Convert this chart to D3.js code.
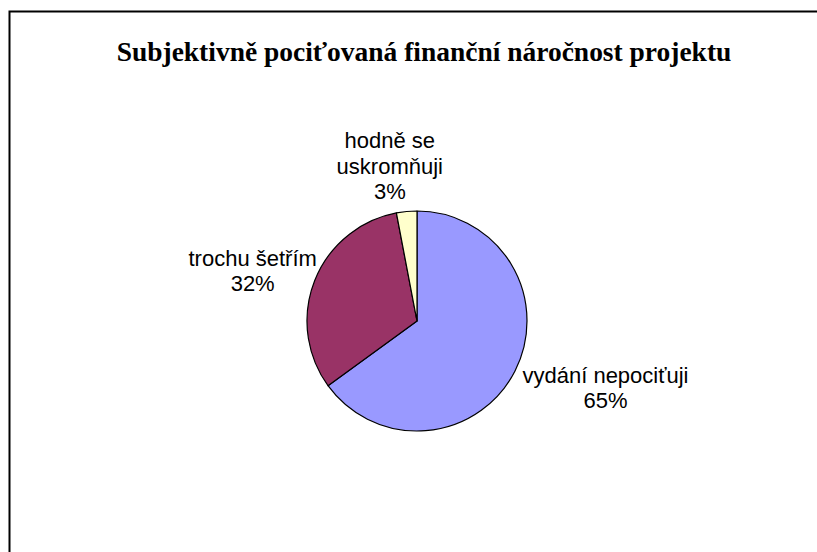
<!DOCTYPE html>
<html>
<head>
<meta charset="utf-8">
<script src="https://cdn.jsdelivr.net/npm/d3@7"></script>
<style>
  html, body { margin: 0; padding: 0; background: #fff; }
  svg { display: block; }
</style>
</head>
<body>
<svg id="chart" width="817" height="552"></svg>
<script>
const titleText = "Subjektivně pociťovaná finanční náročnost projektu";
const categories = ["vydání nepociťuji", "trochu šetřím", "hodně se uskromňuji"];
const labelLines = [["vydání nepociťuji"], ["trochu šetřím"], ["hodně se", "uskromňuji"]];
const values = [65, 32, 3];
const colors = ["#9999FF", "#993366", "#FFFFCC"];

const W = 817, H = 552;
const svg = d3.select("#chart");

// frame (continues beyond the visible area on the right and bottom)
svg.append("rect")
  .attr("x", 9.5).attr("y", 11.5)
  .attr("width", W + 20).attr("height", H + 20)
  .attr("fill", "#fff").attr("stroke", "#000").attr("stroke-width", 2);

// title
const title = svg.append("text")
  .attr("x", 424).attr("y", 61)
  .attr("text-anchor", "middle")
  .attr("font-family", "'Liberation Serif', 'Times New Roman', serif")
  .attr("font-weight", "bold")
  .attr("font-size", 26)
  .attr("fill", "#000")
  .text(titleText);
const tw = title.node().getComputedTextLength();
title.attr("font-size", 26 * 615 / tw);

// pie
const cx = 417, cy = 321, r = 110;
const pie = d3.pie().sort(null).value(d => d)(values);
const arc = d3.arc().innerRadius(0).outerRadius(r);
const g = svg.append("g").attr("transform", `translate(${cx},${cy})`);
g.selectAll("path").data(pie).join("path")
  .attr("d", arc)
  .attr("fill", (d, i) => colors[i])
  .attr("stroke", "#000")
  .attr("stroke-width", 1.2)
  .attr("stroke-linejoin", "round");

// labels: placed outside along the slice's mid-angle, with small best-fit adjustments
const labelAdjust = [[8.5, 2], [6, 3.5], [-11, 2.5]];
const fs = 22, lh = 25.5, gap = 9;
const fmt = d3.format(".0%");
const total = d3.sum(values);
pie.forEach((d, i) => {
  const lines = labelLines[i].concat([fmt(values[i] / total)]);
  const t = svg.append("text")
    .attr("font-family", "'Liberation Sans', Arial, sans-serif")
    .attr("font-size", fs)
    .attr("fill", "#000")
    .attr("text-anchor", "middle");
  const tspans = lines.map(l => t.append("tspan").text(l));
  const w = d3.max(tspans, s => s.node().getComputedTextLength());
  const h = lines.length * lh;
  const a = (d.startAngle + d.endAngle) / 2;
  const ux = Math.sin(a), uy = -Math.cos(a);
  const R = r + gap;
  const bx = cx + R * ux + (w / 2) * ux + labelAdjust[i][0];
  const by = cy + R * uy + (h / 2) * uy + labelAdjust[i][1];
  const top = by - h / 2;
  tspans.forEach((s, j) => {
    s.attr("x", bx).attr("y", top + fs * 0.9 + j * lh);
  });
});
</script>
</body>
</html>
